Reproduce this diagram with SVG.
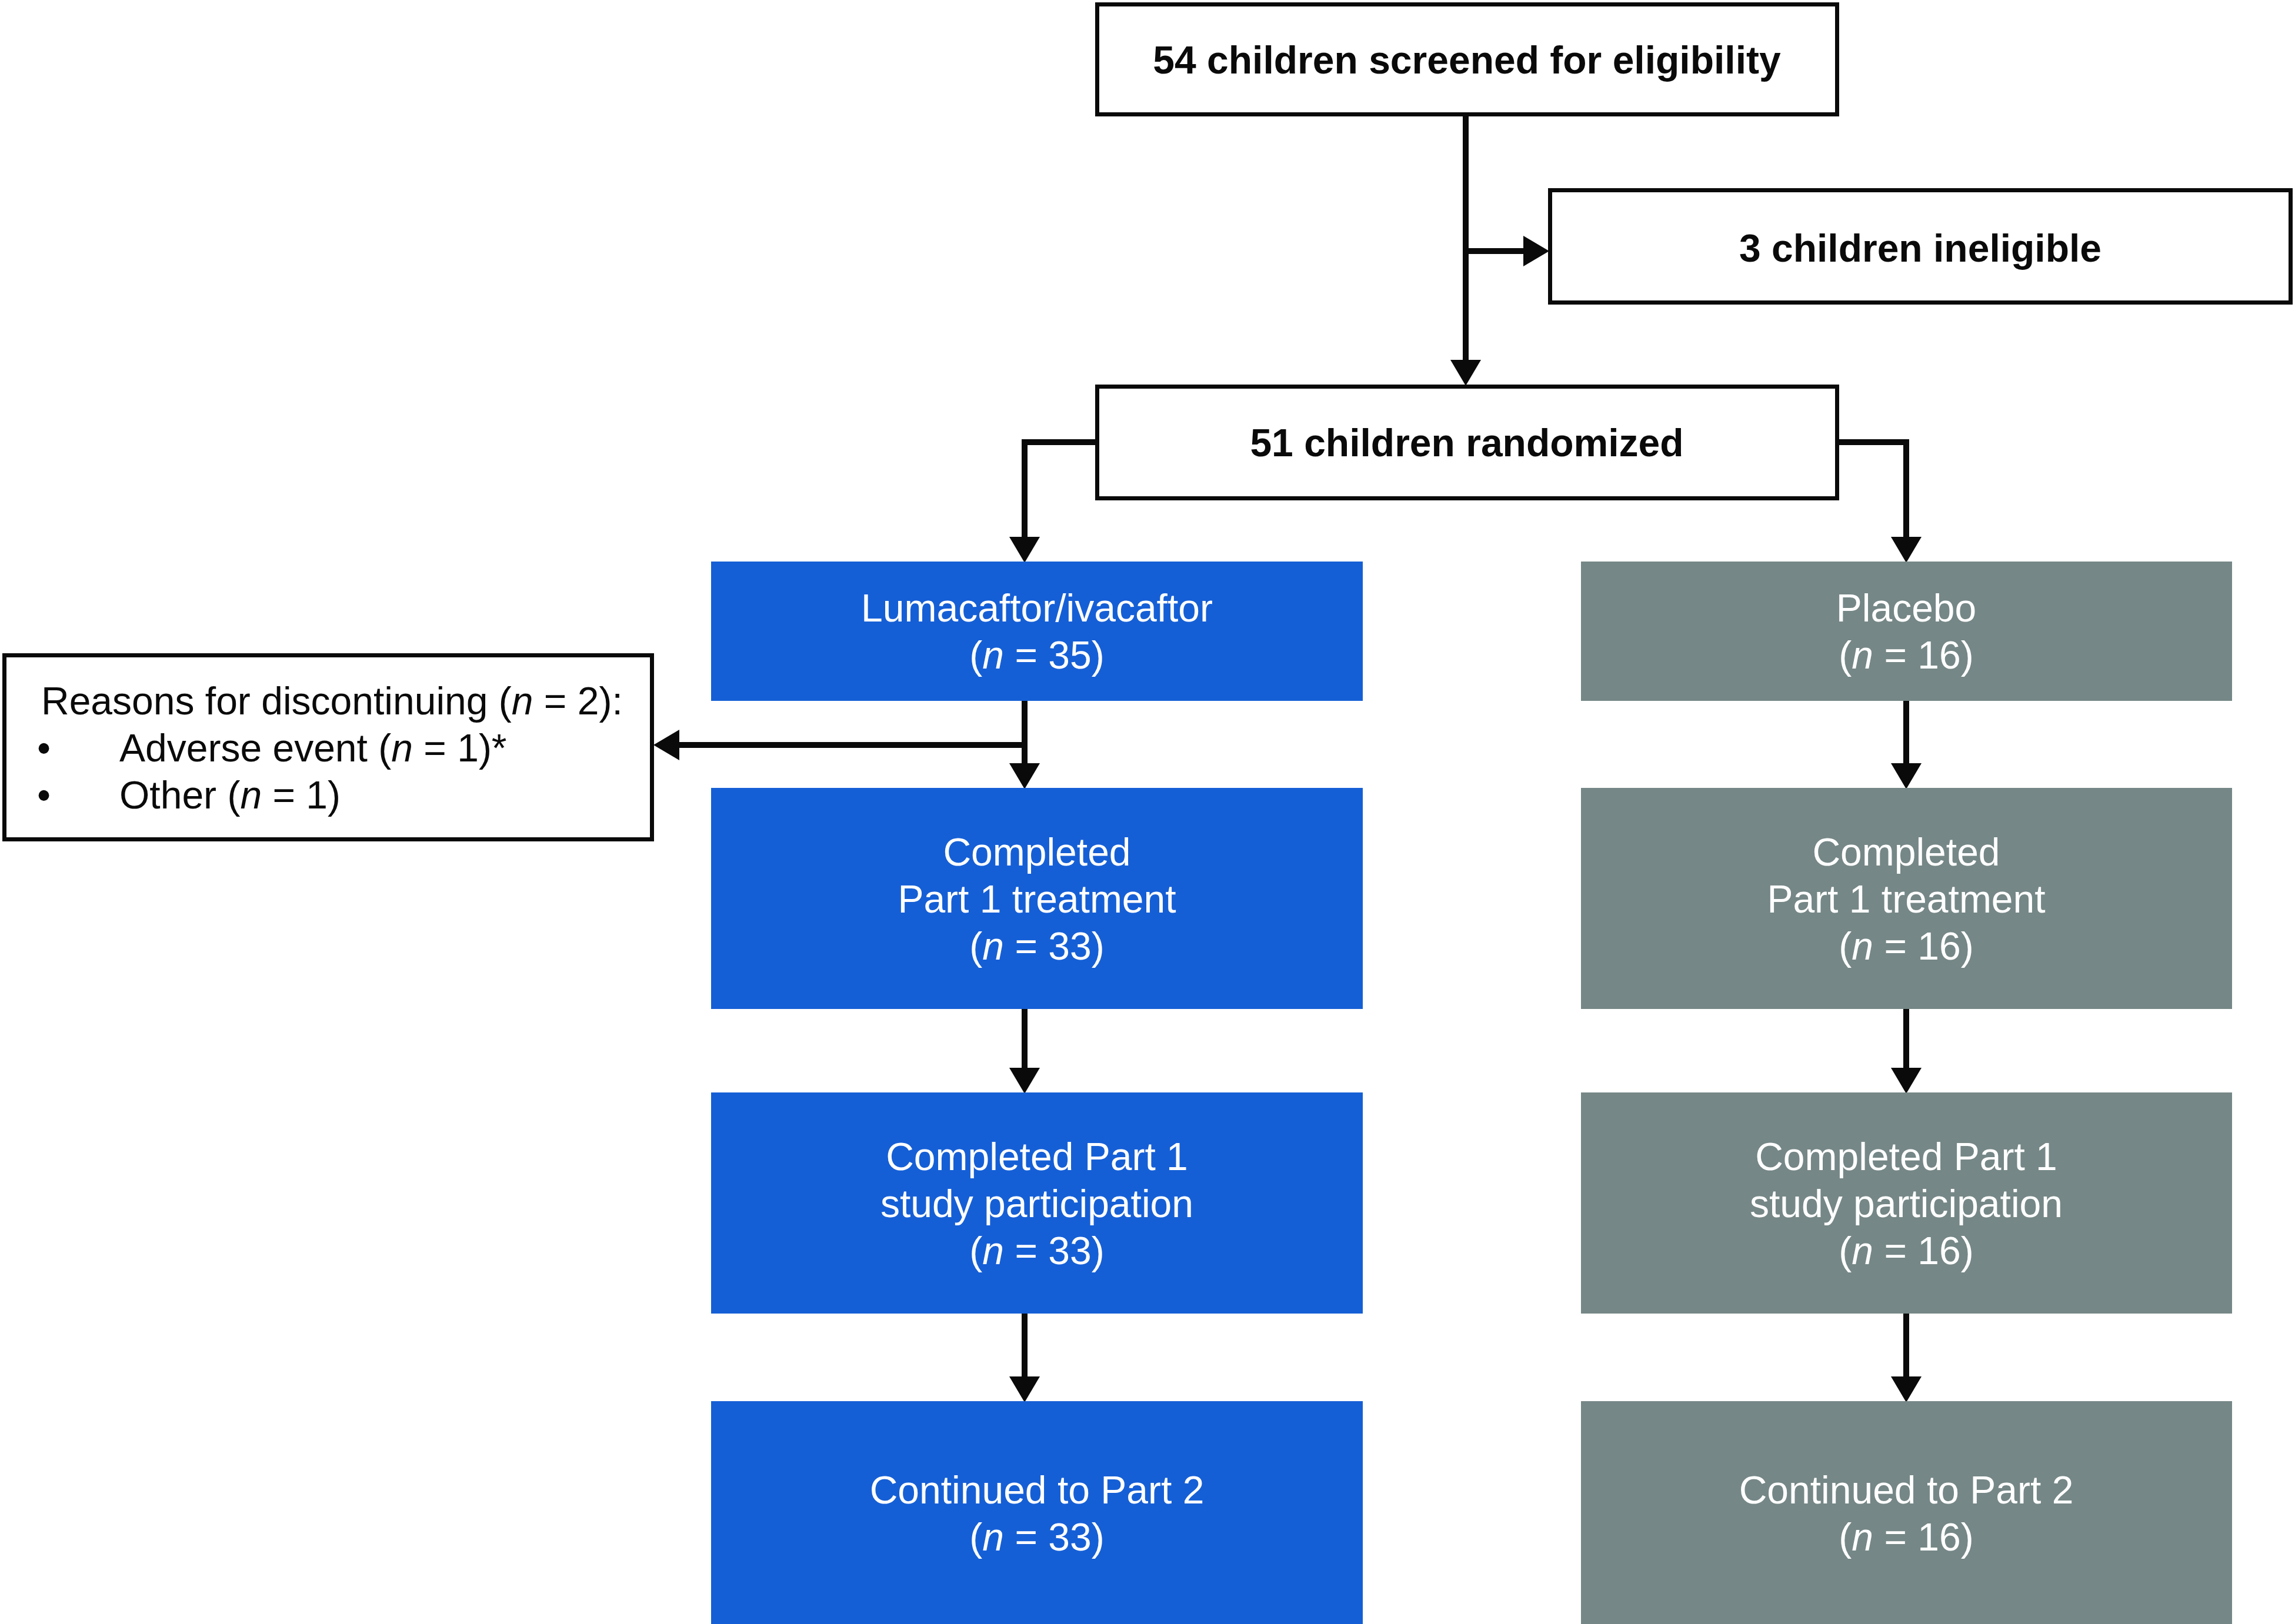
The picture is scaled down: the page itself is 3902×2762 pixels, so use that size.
<svg xmlns="http://www.w3.org/2000/svg" width="3902" height="2762" viewBox="0 0 3902 2762">
<style>
.wbox{fill:#ffffff;stroke:#0a0a0a;stroke-width:7}
.blue{fill:#155fd6}
.gray{fill:#758786}
.bt{font-family:"Liberation Sans",Arial,sans-serif;font-size:66px;font-weight:bold;fill:#0a0a0a;text-anchor:middle}
.wt{font-family:"Liberation Sans",Arial,sans-serif;font-size:66px;fill:#ffffff;text-anchor:middle}
.lt{font-family:"Liberation Sans",Arial,sans-serif;font-size:66px;fill:#0a0a0a}
.it{font-style:italic}
.conn{fill:none;stroke:#0a0a0a;stroke-width:10}
</style>
<defs>
<marker id="ah" markerUnits="userSpaceOnUse" markerWidth="46" markerHeight="56" refX="0" refY="28" orient="auto" viewBox="0 0 46 56">
<path d="M0,2 L44,28 L0,54 z" fill="#0a0a0a"/>
</marker>
</defs>
<rect width="3902" height="2762" fill="#ffffff"/>
<g id="connectors">
<path class="conn" d="M2492,198 V612" marker-end="url(#ah)"/>
<path class="conn" d="M2492,427 H2590" marker-end="url(#ah)"/>
<path class="conn" d="M1862,752 H1742 V913" marker-end="url(#ah)"/>
<path class="conn" d="M3127,752 H3241 V913" marker-end="url(#ah)"/>
<path class="conn" d="M1742,1192 V1298" marker-end="url(#ah)"/>
<path class="conn" d="M1742,1267 H1155" marker-end="url(#ah)"/>
<path class="conn" d="M1742,1716 V1816" marker-end="url(#ah)"/>
<path class="conn" d="M1742,2234 V2341" marker-end="url(#ah)"/>
<path class="conn" d="M3241,1192 V1298" marker-end="url(#ah)"/>
<path class="conn" d="M3241,1716 V1816" marker-end="url(#ah)"/>
<path class="conn" d="M3241,2234 V2341" marker-end="url(#ah)"/>
</g>
<g id="screened">
<rect class="wbox" x="1865.5" y="7.5" width="1258" height="187"/>
<text class="bt" x="2494" y="125">54 children screened for eligibility</text>
</g>
<g id="ineligible">
<rect class="wbox" x="2635.5" y="323.5" width="1259" height="191"/>
<text class="bt" x="3265" y="445">3 children ineligible</text>
</g>
<g id="randomized">
<rect class="wbox" x="1865.5" y="657.5" width="1258" height="190"/>
<text class="bt" x="2494" y="776">51 children randomized</text>
</g>
<g id="discontinuing">
<rect class="wbox" x="7.5" y="1114.5" width="1101" height="313"/>
<text class="lt" x="70" y="1215">Reasons for discontinuing (<tspan class="it">n</tspan> = 2):</text>
<text class="lt" x="63" y="1295">•</text>
<text class="lt" x="203" y="1295">Adverse event (<tspan class="it">n</tspan> = 1)*</text>
<text class="lt" x="63" y="1375">•</text>
<text class="lt" x="203" y="1375">Other (<tspan class="it">n</tspan> = 1)</text>
</g>
<g id="lum">
<rect class="blue" x="1209" y="955" width="1108" height="237"/>
<text class="wt" x="1763" y="1057">Lumacaftor/ivacaftor</text>
<text class="wt" x="1763" y="1137">(<tspan class="it">n</tspan> = 35)</text>
</g>
<g id="lum-part1-treatment">
<rect class="blue" x="1209" y="1340" width="1108" height="376"/>
<text class="wt" x="1763" y="1472">Completed</text>
<text class="wt" x="1763" y="1552">Part 1 treatment</text>
<text class="wt" x="1763" y="1632">(<tspan class="it">n</tspan> = 33)</text>
</g>
<g id="lum-part1-study">
<rect class="blue" x="1209" y="1858" width="1108" height="376"/>
<text class="wt" x="1763" y="1990">Completed Part 1</text>
<text class="wt" x="1763" y="2070">study participation</text>
<text class="wt" x="1763" y="2150">(<tspan class="it">n</tspan> = 33)</text>
</g>
<g id="lum-part2">
<rect class="blue" x="1209" y="2383" width="1108" height="379"/>
<text class="wt" x="1763" y="2557">Continued to Part 2</text>
<text class="wt" x="1763" y="2637">(<tspan class="it">n</tspan> = 33)</text>
</g>
<g id="placebo">
<rect class="gray" x="2688" y="955" width="1107" height="237"/>
<text class="wt" x="3241" y="1057">Placebo</text>
<text class="wt" x="3241" y="1137">(<tspan class="it">n</tspan> = 16)</text>
</g>
<g id="pla-part1-treatment">
<rect class="gray" x="2688" y="1340" width="1107" height="376"/>
<text class="wt" x="3241" y="1472">Completed</text>
<text class="wt" x="3241" y="1552">Part 1 treatment</text>
<text class="wt" x="3241" y="1632">(<tspan class="it">n</tspan> = 16)</text>
</g>
<g id="pla-part1-study">
<rect class="gray" x="2688" y="1858" width="1107" height="376"/>
<text class="wt" x="3241" y="1990">Completed Part 1</text>
<text class="wt" x="3241" y="2070">study participation</text>
<text class="wt" x="3241" y="2150">(<tspan class="it">n</tspan> = 16)</text>
</g>
<g id="pla-part2">
<rect class="gray" x="2688" y="2383" width="1107" height="379"/>
<text class="wt" x="3241" y="2557">Continued to Part 2</text>
<text class="wt" x="3241" y="2637">(<tspan class="it">n</tspan> = 16)</text>
</g>
</svg>
